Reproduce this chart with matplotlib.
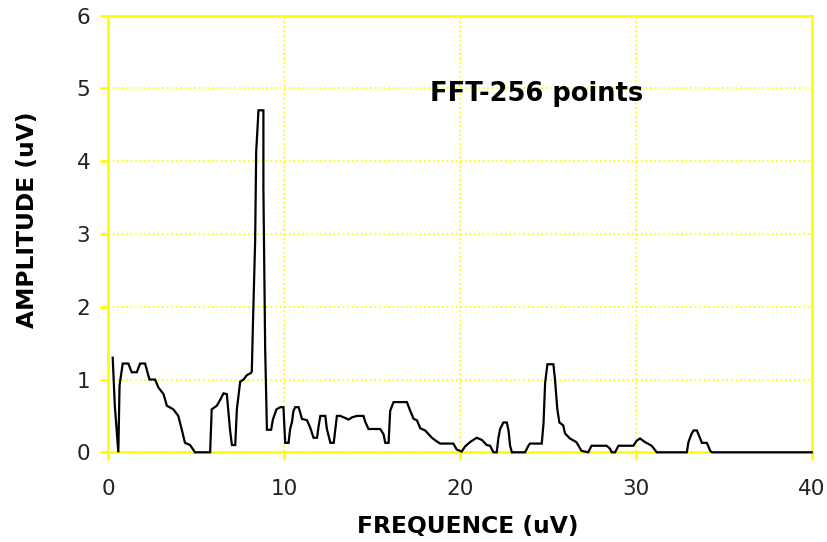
import matplotlib
matplotlib.use("Agg")
import matplotlib.pyplot as plt

# Spectrum breakpoints (frequency, amplitude)
freq = [0.25, 0.29, 0.37, 0.47, 0.57, 0.64, 0.82, 1.14, 1.33, 1.62, 1.81, 2.09,
        2.34, 2.66, 2.85, 3.14, 3.33, 3.70, 3.98, 4.17, 4.36, 4.65, 4.93, 5.79,
        5.88, 6.17, 6.36, 6.55, 6.74, 6.93, 7.03, 7.22, 7.31, 7.50, 7.69, 7.88,
        8.11, 8.16, 8.22, 8.35, 8.41, 8.54, 8.82, 8.82, 8.92, 9.02, 9.26, 9.36,
        9.56, 9.78, 9.96, 10.06, 10.25, 10.34, 10.44, 10.53, 10.63, 10.82, 10.91,
        11.01, 11.30, 11.48, 11.67, 11.87, 11.96, 12.06, 12.34, 12.43, 12.63,
        12.82, 13.00, 13.19, 13.39, 13.67, 13.86, 14.14, 14.51, 14.61, 14.80,
        15.46, 15.65, 15.75, 15.94, 16.03, 16.22, 16.98, 17.17, 17.36, 17.55,
        17.74, 18.02, 18.21, 18.40, 18.68, 18.87, 19.62, 19.81, 20.09, 20.29,
        20.57, 20.95, 21.24, 21.52, 21.71, 21.90, 22.09, 22.18, 22.28, 22.47,
        22.66, 22.76, 22.85, 22.95, 23.70, 23.89, 23.98, 24.65, 24.75, 24.84,
        24.97, 25.31, 25.40, 25.53, 25.65, 25.87, 25.97, 26.25, 26.62, 26.91,
        27.29, 27.48, 28.34, 28.53, 28.63, 28.82, 29.01, 29.86, 30.05, 30.24,
        30.52, 30.90, 31.19, 32.90, 32.99, 33.18, 33.28, 33.47, 33.66, 33.76,
        34.04, 34.23, 34.33, 40.00]
amplitude = [1.30, 1.09, 0.64, 0.32, 0.00, 0.92, 1.22, 1.22, 1.10, 1.10, 1.22, 1.22,
             1.00, 1.00, 0.89, 0.80, 0.64, 0.59, 0.50, 0.32, 0.13, 0.10, 0.00, 0.00,
             0.59, 0.64, 0.72, 0.81, 0.80, 0.29, 0.10, 0.10, 0.59, 0.97, 1.00, 1.06,
             1.09, 1.11, 1.71, 2.90, 4.13, 4.70, 4.70, 3.63, 1.43, 0.31, 0.31, 0.45,
             0.59, 0.62, 0.62, 0.13, 0.13, 0.32, 0.41, 0.57, 0.62, 0.62, 0.55,
             0.46, 0.44, 0.34, 0.20, 0.20, 0.36, 0.50, 0.50, 0.32, 0.13,
             0.13, 0.50, 0.50, 0.48, 0.45, 0.48, 0.50, 0.50, 0.42, 0.32,
             0.32, 0.25, 0.13, 0.13, 0.57, 0.69, 0.69, 0.57, 0.46, 0.44,
             0.33, 0.30, 0.25, 0.20, 0.15, 0.12, 0.12, 0.04, 0.01, 0.08,
             0.14, 0.20, 0.17, 0.10, 0.09, 0.00, 0.00, 0.19, 0.32, 0.41,
             0.41, 0.30, 0.09, 0.00, 0.00, 0.09, 0.12, 0.12, 0.40, 0.95,
             1.21, 1.21, 1.01, 0.60, 0.41, 0.37, 0.26, 0.19, 0.14, 0.02,
             0.00, 0.09, 0.09, 0.05, 0.00, 0.00, 0.09, 0.09, 0.16, 0.19,
             0.14, 0.09, 0.00, 0.00, 0.14, 0.26, 0.30, 0.30, 0.19, 0.13,
             0.13, 0.02, 0.00, 0.00]

x_ticks = [0, 10, 20, 30, 40]
y_ticks = [0, 1, 2, 3, 4, 5, 6]

YELLOW = "#FFFF00"

fig = plt.figure(figsize=(8.28, 5.42), dpi=100)
ax = fig.add_axes([0.1308, 0.1655, 0.8495, 0.8055])

ax.set_xlim(0, 40)
ax.set_ylim(0, 6)
ax.set_xticks(x_ticks)
ax.set_yticks(y_ticks)

ax.grid(True, color=YELLOW, linestyle=(0, (1, 1.5)), linewidth=1.3, zorder=0)
for side in ax.spines.values():
    side.set_color(YELLOW)
    side.set_linewidth(2)

ax.plot(freq, amplitude, color="black", linewidth=1.6, zorder=3,
        solid_joinstyle="miter", clip_on=False)

ax.tick_params(axis="both", direction="out", length=6, width=2, color=YELLOW,
               labelsize=15.5, labelcolor="#222222")
ax.tick_params(axis="y", pad=7)
ax.tick_params(axis="x", pad=13)

ax.text(24.36, 4.92, "FFT-256 points", ha="center", va="center",
        fontsize=18.5, fontweight="bold", color="black")

fig.text(0.5646, 0.028, "FREQUENCE (uV)", ha="center", va="center",
         fontsize=16.8, fontweight="bold")
fig.text(0.033, 0.594, "AMPLITUDE (uV)", ha="center", va="center",
         rotation=90, fontsize=16.8, fontweight="bold")

fig.savefig("out.png", dpi=100, facecolor="white")
